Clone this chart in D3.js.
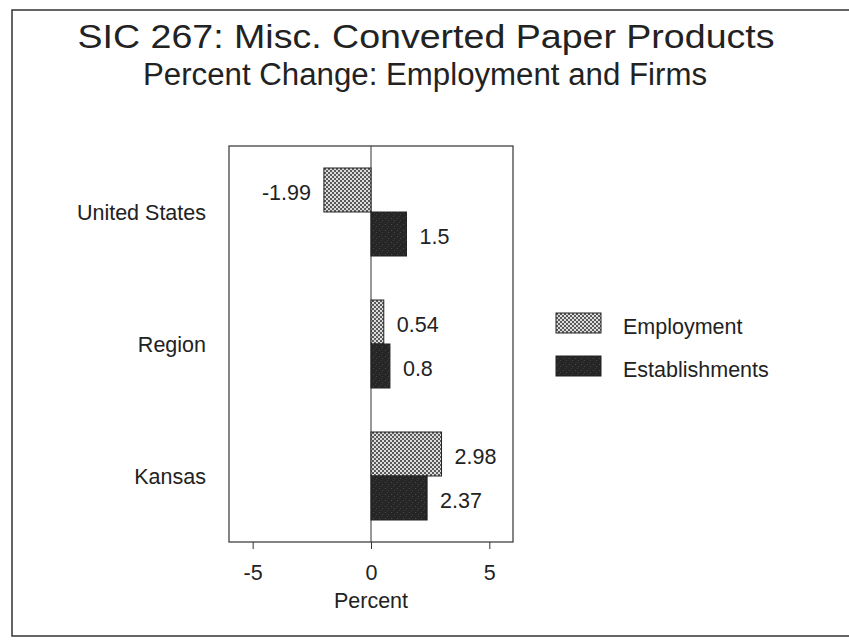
<!DOCTYPE html>
<html>
<head>
<meta charset="utf-8">
<script src="https://cdn.jsdelivr.net/npm/d3@7"></script>
<style>
  html, body { margin: 0; padding: 0; background: #fff; }
  svg { display: block; font-family: "Liberation Sans", Arial, Helvetica, sans-serif; }
</style>
</head>
<body>
<svg id="chart" width="849" height="640"></svg>
<script>
// Percent change by area, 1 row per area
const categories = ["United States", "Region", "Kansas"];
const seriesNames = ["Employment", "Establishments"];
const employment = [-1.99, 0.54, 2.98];
const establishments = [1.5, 0.8, 2.37];
const xTicks = [-5, 0, 5];
const xDomain = [-6, 6];

const svg = d3.select("#chart");
const defs = svg.append("defs");
const ink = "#222";
const labelSize = 21.5;

// Dithered light fill for Employment
const pLight = defs.append("pattern")
  .attr("id", "patLight").attr("patternUnits", "userSpaceOnUse")
  .attr("width", 4).attr("height", 4);
pLight.append("rect").attr("width", 4).attr("height", 4).attr("fill", "#dcdcdc");
pLight.append("rect").attr("x", 0).attr("y", 0).attr("width", 2).attr("height", 2).attr("fill", "#5a5a5a");
pLight.append("rect").attr("x", 2).attr("y", 2).attr("width", 2).attr("height", 2).attr("fill", "#5a5a5a");

// Dark speckled fill for Establishments
const pDark = defs.append("pattern")
  .attr("id", "patDark").attr("patternUnits", "userSpaceOnUse")
  .attr("width", 6).attr("height", 6);
pDark.append("rect").attr("width", 6).attr("height", 6).attr("fill", "#262626");
pDark.append("rect").attr("x", 1).attr("y", 2).attr("width", 1).attr("height", 1).attr("fill", "#4a4a4a");
pDark.append("rect").attr("x", 4).attr("y", 4).attr("width", 1).attr("height", 1).attr("fill", "#444");
pDark.append("rect").attr("x", 3).attr("y", 0).attr("width", 1).attr("height", 1).attr("fill", "#3a3a3a");

const fills = { "Employment": "url(#patLight)", "Establishments": "url(#patDark)" };

// Outer frame
svg.append("rect")
  .attr("x", 12).attr("y", 10).attr("width", 850).attr("height", 626)
  .attr("fill", "none").attr("stroke", "#333").attr("stroke-width", 1.5);

// Titles
svg.append("text").attr("x", 426).attr("y", 48)
  .attr("text-anchor", "middle").attr("font-size", 34).attr("fill", ink)
  .attr("textLength", 697).attr("lengthAdjust", "spacingAndGlyphs")
  .text("SIC 267: Misc. Converted Paper Products");
svg.append("text").attr("x", 425).attr("y", 85)
  .attr("text-anchor", "middle").attr("font-size", 31).attr("fill", ink)
  .attr("textLength", 564).attr("lengthAdjust", "spacingAndGlyphs")
  .text("Percent Change: Employment and Firms");

// Plot area
const plot = { left: 229, right: 513, top: 146, bottom: 542 };

const x = d3.scaleLinear().domain(xDomain).range([plot.left, plot.right]);
const y = d3.scaleBand().domain(categories)
  .range([plot.top, plot.bottom]).paddingInner(1 / 3).paddingOuter(1 / 6);
const ySub = d3.scaleBand().domain(seriesNames).range([0, y.bandwidth()]);

const rows = categories.map((c, i) => ({
  category: c,
  values: [
    { series: "Employment", value: employment[i] },
    { series: "Establishments", value: establishments[i] }
  ]
}));

// Frame of the plot
svg.append("rect")
  .attr("x", plot.left).attr("y", plot.top)
  .attr("width", plot.right - plot.left).attr("height", plot.bottom - plot.top)
  .attr("fill", "none").attr("stroke", "#333").attr("stroke-width", 1.2);

// Zero reference line
svg.append("line")
  .attr("x1", x(0)).attr("x2", x(0))
  .attr("y1", plot.top).attr("y2", plot.bottom)
  .attr("stroke", "#333").attr("stroke-width", 1);

// Bars
const groups = svg.append("g").selectAll("g").data(rows).join("g")
  .attr("transform", d => `translate(0,${y(d.category)})`);

groups.selectAll("rect").data(d => d.values).join("rect")
  .attr("x", d => x(Math.min(0, d.value)))
  .attr("y", d => ySub(d.series))
  .attr("width", d => Math.abs(x(d.value) - x(0)))
  .attr("height", ySub.bandwidth())
  .attr("fill", d => fills[d.series])
  .attr("stroke", ink).attr("stroke-width", 1);

groups.selectAll("text").data(d => d.values).join("text")
  .attr("x", d => d.value < 0 ? x(d.value) - 13 : x(d.value) + 13)
  .attr("y", d => ySub(d.series) + ySub.bandwidth() / 2 + 2)
  .attr("dy", "0.35em")
  .attr("text-anchor", d => d.value < 0 ? "end" : "start")
  .attr("font-size", labelSize).attr("fill", ink)
  .text(d => String(d.value));

// Category axis labels
svg.append("g").selectAll("text").data(categories).join("text")
  .attr("x", 206)
  .attr("y", d => y(d) + y.bandwidth() / 2)
  .attr("dy", "0.35em")
  .attr("text-anchor", "end").attr("font-size", labelSize).attr("fill", ink)
  .text(d => d);

// X axis
const xAxis = svg.append("g")
  .attr("transform", `translate(0,${plot.bottom})`)
  .call(d3.axisBottom(x).tickValues(xTicks).tickSize(7).tickPadding(16).tickFormat(d => String(d)));
xAxis.select(".domain").remove();
xAxis.selectAll("line").attr("stroke", "#333");
xAxis.selectAll("text").attr("font-size", labelSize).attr("fill", ink)
  .attr("font-family", "'Liberation Sans', Arial, sans-serif");

svg.append("text").attr("x", x(0)).attr("y", 608)
  .attr("text-anchor", "middle").attr("font-size", labelSize).attr("fill", ink)
  .text("Percent");

// Legend
const legend = svg.append("g").selectAll("g").data(seriesNames).join("g")
  .attr("transform", (d, i) => `translate(556,${313 + i * 43})`);
legend.append("rect")
  .attr("width", 45).attr("height", 20)
  .attr("fill", d => fills[d]).attr("stroke", ink).attr("stroke-width", 1);
legend.append("text")
  .attr("x", 67).attr("y", 21)
  .attr("font-size", labelSize).attr("fill", ink)
  .text(d => d);
</script>
</body>
</html>
